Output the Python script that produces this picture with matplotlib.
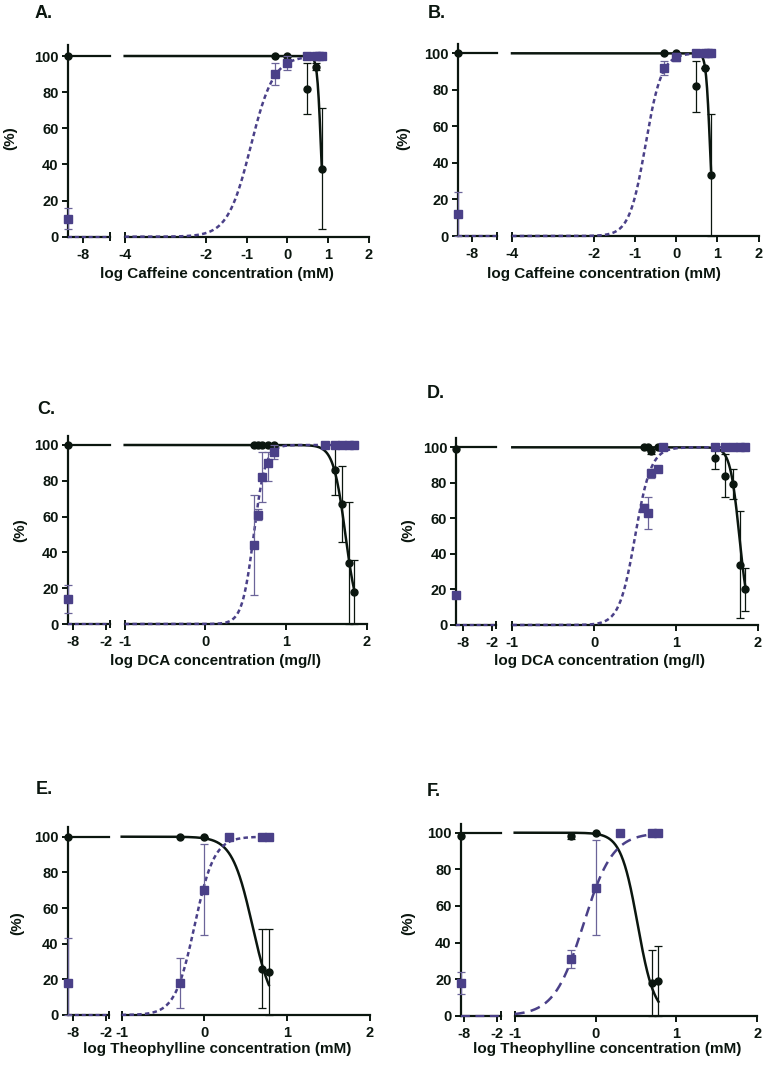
import numpy as np
import matplotlib
matplotlib.use("Agg")
import matplotlib.pyplot as plt

plt.rcParams['font.family'] = ['Liberation Sans', 'DejaVu Sans']
plt.rcParams['font.weight'] = 'bold'

W, H = 766, 1066
BLACK = '#0b160f'
PURPLE = '#4a4088'
PURPLE_ERR = '#6b6499'

# ---------------- data (log concentration, % response, error low/high) ----------------
# Panel A (caffeine)
A_ctrl_black, A_ctrl_purple, A_ctrl_purple_err = 100, 10, (4, 16)
A_black_x = [-0.301, 0.0, 0.477, 0.699, 0.845]
A_black_y = [100, 100, 82, 94, 37.5]
A_black_lo = [100, 100, 68, 92, 4]
A_black_hi = [100, 100, 96, 96, 71]
A_purple_x = [-0.301, 0.0, 0.477, 0.699, 0.778, 0.845]
A_purple_y = [90, 96, 100, 100, 100, 100]
A_purple_lo = [84, 92, 100, 100, 100, 100]
A_purple_hi = [96, 100, 100, 100, 100, 100]
A_black_fit = (0.826, 9.5)
A_purple_fit = (-0.9, 1.53)

# Panel B (caffeine)
B_ctrl_black, B_ctrl_purple, B_ctrl_purple_err = 100, 12, (0, 24)
B_black_x = [-0.301, 0.0, 0.477, 0.699, 0.845]
B_black_y = [100, 100, 82, 92, 33.5]
B_black_lo = [100, 100, 68, 92, 0]
B_black_hi = [100, 100, 96, 92, 67]
B_purple_x = [-0.301, 0.0, 0.477, 0.699, 0.778, 0.845]
B_purple_y = [92, 98, 100, 100, 100, 100]
B_purple_lo = [88, 96, 100, 100, 100, 100]
B_purple_hi = [96, 100, 100, 100, 100, 100]
B_black_fit = (0.817, 9.05)
B_purple_fit = (-0.75, 2.2)

# Panel C (DCA)
C_ctrl_black, C_ctrl_purple, C_ctrl_purple_err = 100, 14, (6, 22)
C_black_x = [0.602, 0.653, 0.699, 0.778, 0.845, 1.602, 1.699, 1.778, 1.845]
C_black_y = [100, 100, 100, 100, 100, 86, 67, 34, 18]
C_black_lo = [100, 100, 100, 100, 100, 72, 46, 0, 0]
C_black_hi = [100, 100, 100, 100, 100, 100, 88, 68, 36]
C_purple_x = [0.602, 0.653, 0.699, 0.778, 0.845, 1.477, 1.602, 1.699, 1.778, 1.845]
C_purple_y = [44, 61, 82, 90, 96, 100, 100, 100, 100, 100]
C_purple_lo = [16, 58, 68, 80, 92, 100, 100, 100, 100, 100]
C_purple_hi = [72, 64, 96, 96, 100, 100, 100, 100, 100, 100]
C_black_fit = (1.736, 5.79)
C_purple_fit = (0.6, 6.0)

# Panel D (DCA)
D_ctrl_black, D_ctrl_purple, D_ctrl_purple_err = 99, 17, (17, 17)
D_black_x = [0.602, 0.653, 0.699, 0.778, 1.477, 1.602, 1.699, 1.778, 1.845]
D_black_y = [100, 100, 98, 100, 94, 84, 79.5, 34, 20]
D_black_lo = [100, 100, 96, 100, 88, 72, 71, 4, 8]
D_black_hi = [100, 100, 100, 100, 100, 96, 88, 64, 32]
D_purple_x = [0.602, 0.653, 0.699, 0.778, 0.845, 1.477, 1.602, 1.699, 1.778, 1.845]
D_purple_y = [66, 63, 85.5, 88, 100, 100, 100, 100, 100, 100]
D_purple_lo = [64, 54, 83, 88, 100, 100, 100, 100, 100, 100]
D_purple_hi = [68, 72, 88, 88, 100, 100, 100, 100, 100, 100]
D_black_fit = (1.772, 7.68)
D_purple_fit = (0.5, 4.5)

# Panel E (theophylline)
E_ctrl_black, E_ctrl_purple, E_ctrl_purple_err = 100, 18, (0, 43)
E_black_x = [-0.301, 0.0, 0.699, 0.778]
E_black_y = [100, 100, 26, 24]
E_black_lo = [100, 100, 4, 0]
E_black_hi = [100, 100, 48, 48]
E_purple_x = [-0.301, 0.0, 0.301, 0.699, 0.778]
E_purple_y = [18, 70, 100, 100, 100]
E_purple_lo = [4, 45, 100, 100, 100]
E_purple_hi = [32, 96, 100, 100, 100]
E_black_fit = (0.58, 3.5)
E_purple_fit = (-0.12, 3.66)

# Panel F (theophylline)
F_ctrl_black, F_ctrl_purple, F_ctrl_purple_err = 98, 18, (12, 24)
F_black_x = [-0.301, 0.0, 0.699, 0.778]
F_black_y = [98, 100, 18, 19]
F_black_lo = [96.5, 100, 0, 0]
F_black_hi = [100, 100, 36, 38]
F_purple_x = [-0.301, 0.0, 0.301, 0.699, 0.778]
F_purple_y = [31, 70, 100, 100, 100]
F_purple_lo = [26, 44, 100, 100, 100]
F_purple_hi = [36, 96, 100, 100, 100]
F_black_fit = (0.52, 4.19)
F_purple_fit = (-0.15, 2.4)

yticks = [0, 20, 40, 60, 80, 100]
caf_label = 'log Caffeine concentration (mM)'
dca_label = 'log DCA concentration (mg/l)'
theo_label = 'log Theophylline concentration (mM)'

panels = [
    dict(letter='A.', lp=(35, 13), X0=67.7, XB=110, XR0=124.7, XR1=368.6, Y0=236.7, Y100=56, YT=45,
         lx=(-8.5, -7.1), lt=[-8], rx=(-4, 2), rt=[-4, -2, -1, 0, 1, 2], xlabel=caf_label, xl=(217, 274), yl=(10, 138),
         ctrl=(A_ctrl_black, A_ctrl_purple, A_ctrl_purple_err),
         bk=(A_black_x, A_black_y, A_black_lo, A_black_hi), pu=(A_purple_x, A_purple_y, A_purple_lo, A_purple_hi),
         bfit=A_black_fit, pfit=A_purple_fit, dash=(0, (1.8, 1.3))),
    dict(letter='B.', lp=(428, 14), X0=458, XB=497.3, XR0=512, XR1=758.5, Y0=236, Y100=53.3, YT=44.3,
         lx=(-8.5, -7.1), lt=[-8], rx=(-4, 2), rt=[-4, -2, -1, 0, 1, 2], xlabel=caf_label, xl=(604, 274), yl=(403, 138),
         ctrl=(B_ctrl_black, B_ctrl_purple, B_ctrl_purple_err),
         bk=(B_black_x, B_black_y, B_black_lo, B_black_hi), pu=(B_purple_x, B_purple_y, B_purple_lo, B_purple_hi),
         bfit=B_black_fit, pfit=B_purple_fit, dash=(0, (1.8, 1.3))),
    dict(letter='C.', lp=(37, 410), X0=67.7, XB=110, XR0=124.7, XR1=366.7, Y0=624, Y100=445, YT=436,
         lx=(-9, -1.3), lt=[-8, -2], rx=(-1, 2), rt=[-1, 0, 1, 2], xlabel=dca_label, xl=(215, 661), yl=(20, 530),
         ctrl=(C_ctrl_black, C_ctrl_purple, C_ctrl_purple_err),
         bk=(C_black_x, C_black_y, C_black_lo, C_black_hi), pu=(C_purple_x, C_purple_y, C_purple_lo, C_purple_hi),
         bfit=C_black_fit, pfit=C_purple_fit, dash=(0, (1.8, 1.3))),
    dict(letter='D.', lp=(427, 393), X0=456.3, XB=496.3, XR0=512.3, XR1=758, Y0=625, Y100=447.3, YT=438.3,
         lx=(-9.3, -1.2), lt=[-8, -2], rx=(-1, 2), rt=[-1, 0, 1, 2], xlabel=dca_label, xl=(600, 661), yl=(408, 530),
         ctrl=(D_ctrl_black, D_ctrl_purple, D_ctrl_purple_err),
         bk=(D_black_x, D_black_y, D_black_lo, D_black_hi), pu=(D_purple_x, D_purple_y, D_purple_lo, D_purple_hi),
         bfit=D_black_fit, pfit=D_purple_fit, dash=(0, (1.8, 1.3))),
    dict(letter='E.', lp=(36, 790), X0=67.7, XB=109.3, XR0=121.7, XR1=370, Y0=1015, Y100=836.7, YT=827.3,
         lx=(-9, -1.3), lt=[-8, -2], rx=(-1, 2), rt=[-1, 0, 1, 2], xlabel=theo_label, xl=(217, 1049), yl=(17, 923),
         ctrl=(E_ctrl_black, E_ctrl_purple, E_ctrl_purple_err),
         bk=(E_black_x, E_black_y, E_black_lo, E_black_hi), pu=(E_purple_x, E_purple_y, E_purple_lo, E_purple_hi),
         bfit=E_black_fit, pfit=E_purple_fit, dash=(0, (1.8, 1.3))),
    dict(letter='F.', lp=(427, 792), X0=460.7, XB=500.7, XR0=514.7, XR1=757.3, Y0=1015.7, Y100=832.7, YT=824,
         lx=(-8.6, -1.4), lt=[-8, -2], rx=(-1, 2), rt=[-1, 0, 1, 2], xlabel=theo_label, xl=(607, 1049), yl=(408, 923),
         ctrl=(F_ctrl_black, F_ctrl_purple, F_ctrl_purple_err),
         bk=(F_black_x, F_black_y, F_black_lo, F_black_hi), pu=(F_purple_x, F_purple_y, F_purple_lo, F_purple_hi),
         bfit=F_black_fit, pfit=F_purple_fit, dash=(0, (4.0, 2.5))),
]


def falling(x, c, h):
    return 100.0 / (1.0 + 10 ** ((x - c) * h))


def rising(x, c, h):
    return 100.0 / (1.0 + 10 ** ((c - x) * h))


fig = plt.figure(figsize=(W / 100, H / 100), dpi=100)
TICK_FS = 10.5
LAB_FS = 11


def add_ax(x0, x1, ytop, y0):
    return fig.add_axes([x0 / W, 1 - y0 / H, (x1 - x0) / W, (y0 - ytop) / H])


def style(ax):
    for s in ['top', 'right']:
        ax.spines[s].set_visible(False)
    for s in ax.spines.values():
        s.set_linewidth(1.6)
        s.set_color(BLACK)
    ax.tick_params(direction='out', length=4, width=1.4, colors=BLACK, labelsize=TICK_FS)
    ax.tick_params(axis='x', pad=4)
    ax.tick_params(axis='y', pad=2.5)


def brk(ax, xa):
    ax.plot([xa, xa], [-0.022, 0.022], transform=ax.transAxes, color=BLACK, lw=1.4, clip_on=False,
            solid_capstyle='butt')


for p in panels:
    ytop = 100 * (p['Y0'] - p['YT']) / (p['Y0'] - p['Y100'])
    axl = add_ax(p['X0'], p['XB'], p['YT'], p['Y0'])
    axr = add_ax(p['XR0'], p['XR1'], p['YT'], p['Y0'])
    for ax in (axl, axr):
        ax.set_ylim(0, ytop)
        ax.patch.set_visible(False)
    axl.set_xlim(*p['lx'])
    axr.set_xlim(*p['rx'])
    style(axl)
    style(axr)
    axr.spines['left'].set_visible(False)
    axr.set_yticks([])
    axl.set_yticks(yticks)
    axl.set_xticks(p['lt'])
    axr.set_xticks(p['rt'])
    axl.set_xticklabels([str(v) for v in p['lt']], fontweight='bold')
    axr.set_xticklabels([str(v) for v in p['rt']], fontweight='bold')
    axl.set_yticklabels([str(v) for v in yticks], fontweight='bold')
    brk(axl, 1.0)
    brk(axr, 0.0)

    # left segment: control values
    cb, cp, cpe = p['ctrl']
    lx = p['lx']
    axl.plot(lx, [100, 100], color=BLACK, lw=1.6, clip_on=False, zorder=3)
    axl.plot(lx, [0, 0], color=PURPLE, lw=1.6, ls=p['dash'], clip_on=False, zorder=3)
    axl.errorbar([lx[0]], [cp], yerr=[[cp - cpe[0]], [cpe[1] - cp]], fmt='s', color=PURPLE, ecolor=PURPLE_ERR,
                 ms=5.5, elinewidth=0.9, capsize=3, capthick=0.9, clip_on=False, zorder=4)
    axl.plot([lx[0]], [cb], 'o', color=BLACK, ms=5, clip_on=False, zorder=5)

    # right segment
    bx, by, blo, bhi = p['bk']
    px, py, plo, phi = p['pu']
    xb = np.linspace(p['rx'][0], max(bx), 400)
    xp = np.linspace(p['rx'][0], max(px), 400)
    axr.plot(xb, falling(xb, *p['bfit']), color=BLACK, lw=1.8, zorder=3, clip_on=False)
    axr.plot(xp, rising(xp, *p['pfit']), color=PURPLE, lw=1.8, ls=p['dash'], zorder=3, clip_on=False)
    by_a = np.array(by, float)
    axr.errorbar(bx, by, yerr=[by_a - np.array(blo), np.array(bhi) - by_a], fmt='o', color=BLACK, ecolor=BLACK,
                 ms=5, elinewidth=0.9, capsize=3, capthick=0.9, clip_on=False, zorder=4)
    py_a = np.array(py, float)
    axr.errorbar(px, py, yerr=[py_a - np.array(plo), np.array(phi) - py_a], fmt='s', color=PURPLE,
                 ecolor=PURPLE_ERR, ms=5.5, elinewidth=0.9, capsize=3, capthick=0.9, clip_on=False, zorder=5)

    fig.text(p['lp'][0] / W, 1 - p['lp'][1] / H, p['letter'], fontsize=13, fontweight='bold',
             ha='left', va='center', color=BLACK)
    fig.text(p['xl'][0] / W, 1 - p['xl'][1] / H, p['xlabel'], fontsize=LAB_FS, fontweight='bold',
             ha='center', va='center', color=BLACK)
    fig.text(p['yl'][0] / W, 1 - p['yl'][1] / H, '(%)', fontsize=LAB_FS, fontweight='bold',
             ha='center', va='center', rotation=90, color=BLACK)

fig.savefig('out.png', dpi=100, facecolor='white')
